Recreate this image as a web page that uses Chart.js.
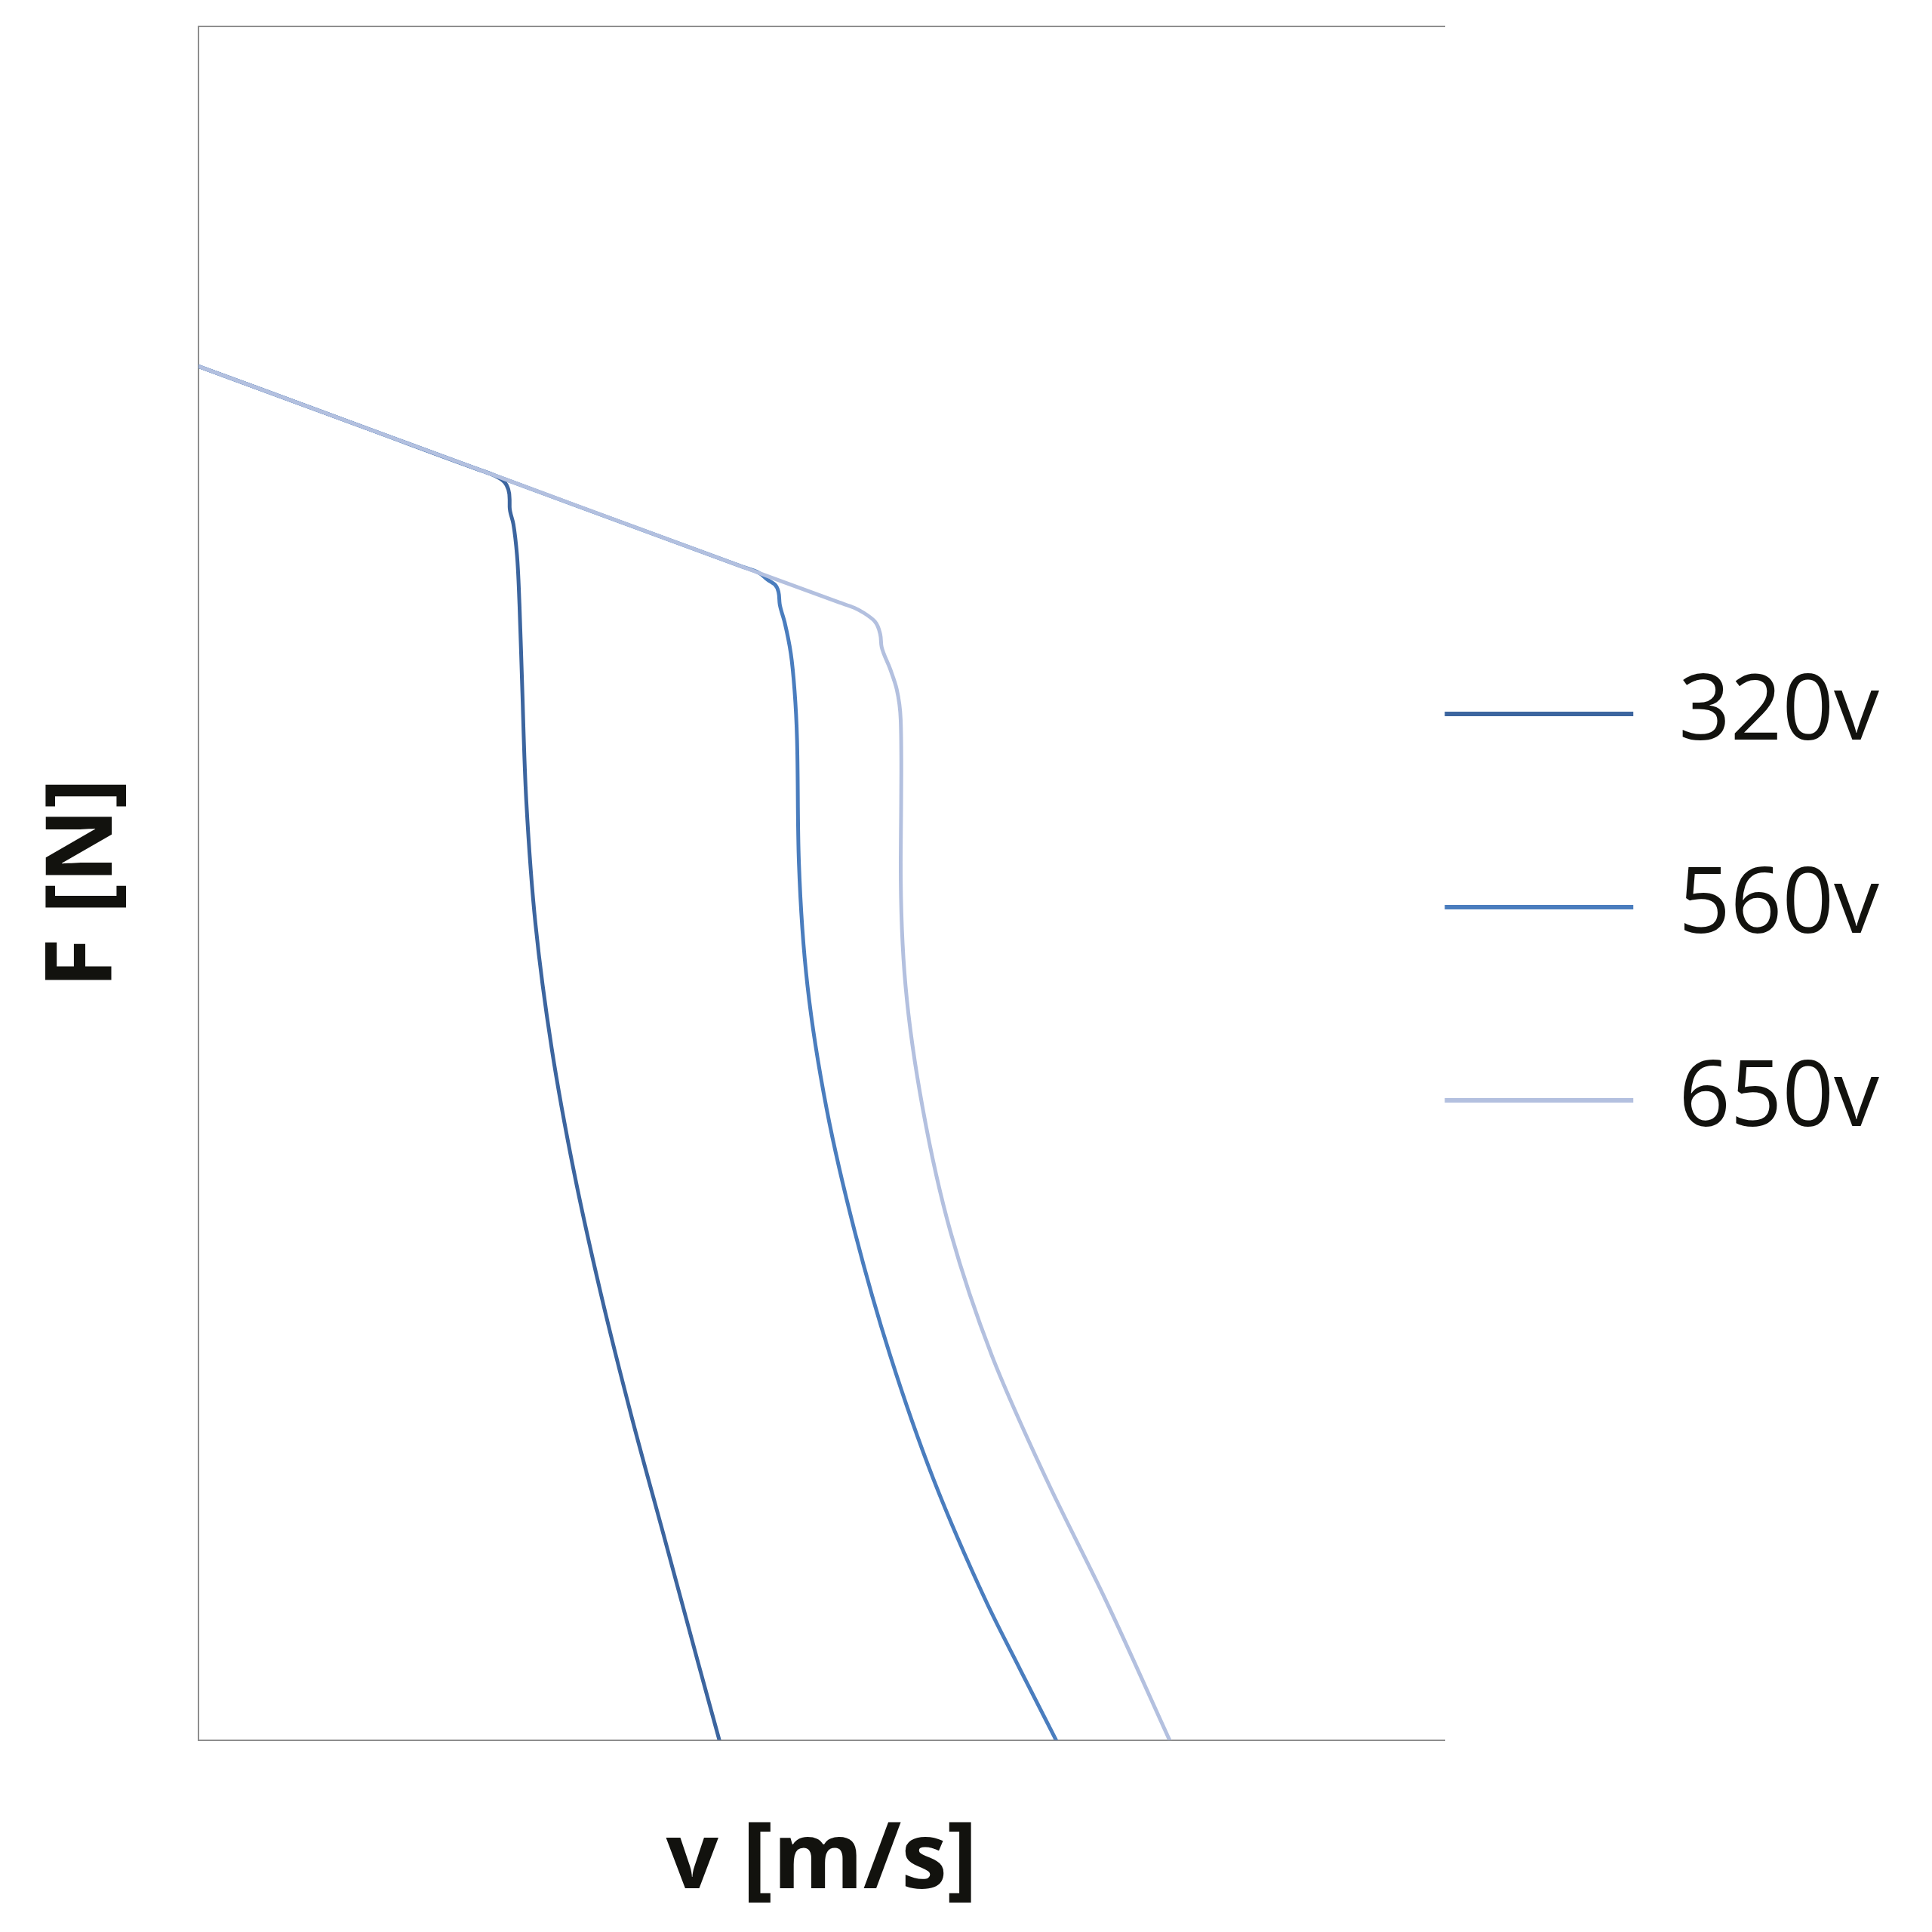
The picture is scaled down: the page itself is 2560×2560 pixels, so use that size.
<!DOCTYPE html>
<html>
<head>
<meta charset="utf-8">
<title>F - v</title>
<script src="https://cdn.jsdelivr.net/npm/chart.js@4/dist/chart.umd.min.js"></script>
<style>
    html, body { margin: 0; padding: 0; background: #fff; }
    #wrap { width: 2560px; height: 2560px; position: relative; }
</style>
</head>
<body>
<div id="wrap"><canvas id="fvChart"></canvas></div>
<script>
// series names (legend)
const seriesNames = ['320v', '560v', '650v'];

// curves (x = v, y = F, both on a 0..100 scale)
const v320 = [0, 13.76, 22.18, 23.40, 24.16, 24.55, 24.85, 24.95, 24.95, 25.25, 25.54, 25.74, 25.94, 26.29, 27.03, 28.32, 30.10, 32.28, 34.75, 37.43, 40.10, 41.78];
const f320 = [80.16, 76.47, 74.21, 73.90, 73.62, 73.40, 72.97, 72.39, 71.96, 70.96, 69.16, 66.28, 61.90, 54.78, 47.59, 40.40, 33.21, 26.02, 18.84, 11.65, 4.46, 0];

const v560 = [0, 13.76, 23.66, 43.66, 44.90, 45.64, 46.24, 46.53, 46.63, 47.03, 47.52, 47.82, 48.02, 48.17, 48.86, 50.40, 52.67, 55.50, 58.96, 63.22, 65.94, 68.81];
const f560 = [80.16, 76.47, 73.82, 68.46, 68.14, 67.72, 67.43, 67.00, 66.28, 65.21, 63.41, 61.25, 58.38, 51.19, 44.00, 36.81, 29.62, 22.43, 15.24, 8.05, 4.10, 0];

const v650 = [0, 13.76, 23.66, 43.47, 51.39, 52.60, 53.37, 54.26, 54.70, 54.81, 55.51, 56.02, 56.34, 56.39, 56.37, 56.34, 56.73, 58.12, 60.35, 63.66, 68.02, 72.87, 77.92];
const f650 = [80.16, 76.47, 73.82, 68.51, 66.39, 66.08, 65.78, 65.28, 64.52, 63.79, 62.47, 61.32, 59.53, 56.58, 53.99, 51.19, 44.00, 36.81, 29.62, 22.43, 15.24, 8.05, 0];

const colors = ['#3C659F', '#4A7DBE', '#B3C0DF'];
const axisColor = '#8E8E8E';
const textColor = '#12120E';
const FONT = '"Open Sans", "Liberation Sans", sans-serif';

const toPoints = (xs, ys) => xs.map((x, i) => ({ x: x, y: ys[i] }));
const curves = [toPoints(v320, f320), toPoints(v560, f560), toPoints(v650, f650)];

const datasets = curves.map((pts, i) => ({
    label: seriesNames[i],
    data: pts,
    indexAxis: 'y',                 // F falls steadily, so interpolate along F
    cubicInterpolationMode: 'monotone',
    borderColor: colors[i],
    backgroundColor: colors[i],
    borderWidth: 5,
    borderCapStyle: 'round',
    borderJoinStyle: 'round',
    pointRadius: 0,
    fill: false,
    order: 2 - i   // lightest curve drawn on top
}));

new Chart(document.getElementById('fvChart'), {
    type: 'line',
    data: { datasets: datasets },
    options: {
        responsive: true,
        maintainAspectRatio: false,
        animation: false,
        layout: { padding: { left: 0, right: 60, top: 0, bottom: 20 } },
        plugins: {
            tooltip: { enabled: false },
            legend: {
                position: 'right',
                align: 'center',
                labels: {
                    usePointStyle: true,
                    pointStyle: 'line',
                    pointStyleWidth: 250,
                    padding: 0,
                    color: textColor,
                    font: { family: FONT, size: 120, lineHeight: 2.1333 },
                    sort: (a, b) => a.datasetIndex - b.datasetIndex,
                    generateLabels: chart => Chart.defaults.plugins.legend.labels.generateLabels(chart)
                        .map(item => Object.assign(item, { text: [item.text], lineWidth: 6 }))
                }
            }
        },
        scales: {
            x: {
                type: 'linear',
                position: 'bottom',
                min: 0,
                max: 100,
                grid: { display: false },
                border: { display: true, color: axisColor, width: 2 },
                ticks: { display: false },
                title: {
                    display: true,
                    text: 'v [m/s]',
                    color: textColor,
                    font: { family: FONT, size: 122, weight: 'bold' },
                    padding: { top: 80, bottom: 0 }
                }
            },
            xTop: {
                type: 'linear',
                position: 'top',
                min: 0,
                max: 100,
                grid: { display: true, drawOnChartArea: false, drawTicks: true, tickLength: 35, color: 'rgba(0,0,0,0)' },
                border: { display: true, color: axisColor, width: 2 },
                ticks: { display: false }
            },
            y: {
                type: 'linear',
                position: 'left',
                min: 0,
                max: 100,
                grid: { display: false },
                border: { display: true, color: axisColor, width: 2 },
                ticks: { display: false },
                title: {
                    display: true,
                    text: 'F [N]',
                    color: textColor,
                    font: { family: FONT, size: 122, weight: 'bold' },
                    padding: { top: 40, bottom: 69 }
                }
            }
        }
    }
});
</script>
</body>
</html>
